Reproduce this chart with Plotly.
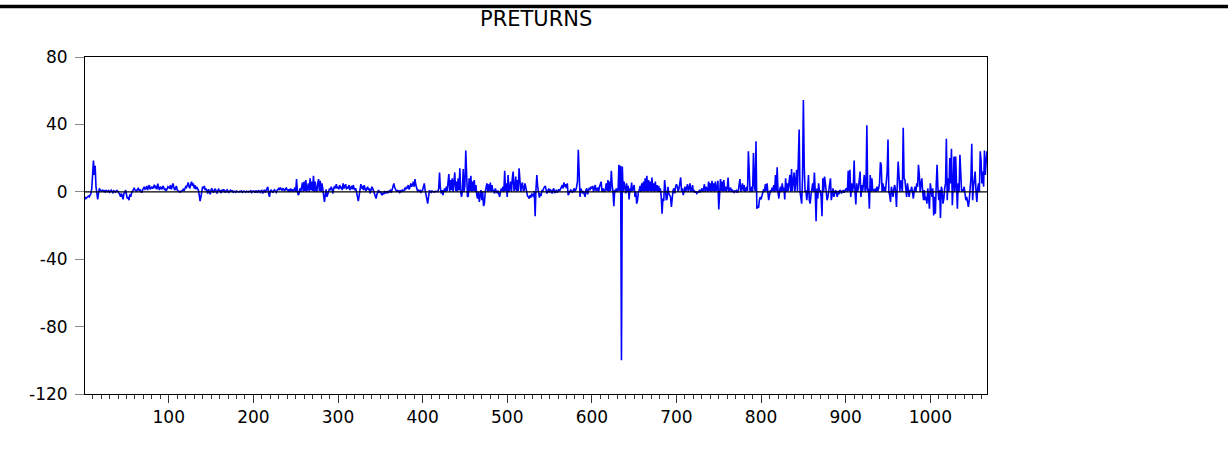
import plotly.graph_objects as go

title_text = "PRETURNS"
x_tick_values = [100, 200, 300, 400, 500, 600, 700, 800, 900, 1000]
x_tick_labels = ["100", "200", "300", "400", "500", "600", "700", "800", "900", "1000"]
y_tick_values = [-120, -80, -40, 0, 40, 80]
y_tick_labels = ["-120", "-80", "-40", "0", "40", "80"]

preturns = [
    -3, -4, -3.5, -3, -2.5, -3, -2, -1, 2, 8, 18.5, 10, 15.5, 3, -1, -4.5, -1, 2, 1, 0.5,
    0.5, 1, 0.3, 0.6, -0.4, 0.8, 0.5, 0.2, 0.7, -0.3, 0.4, 1, 0.2, -0.5, 0.6, 0.3, -0.2, 0.5, 0.8, 0.1,
    -0.5, -1.5, -3, -1, -2.5, -4.5, -1, -0.5, 1, -2, -4, -3, -5, -1.5, -3, -0.8, 0.5, 1.5, 2, 1.2,
    1, 0.5, 1.5, 2, 0.8, 1.2, 0.4, -0.5, 1, 2.5, 3, 1.5, 2, 3.5, 1, 2.8, 4, 1.5, 2.2, 3,
    1.8, 3, 4.2, 2, 3.5, 1.5, 4.8, 2.5, 1, 3, 2, 1.5, 3.5, 2.8, 1, 2, 0.5, 1.5, 3, 2.5,
    2, 4, 1.5, 3, 5, 2.5, 1, 2, 3.5, 1, 0.5, 0.3, -0.2, 0.4, 0.2, 0.8, 1.5, 0.5, 2, 3,
    2.5, 4, 5.5, 3, 2, 4.5, 6, 3.5, 5, 2, 4, 1.5, 3, 2, 1, -2, -5.5, -3, 1, 3,
    2, 3.5, 1, 2, 0.5, -1, 1.5, 0.5, -1.5, 1, 2, 0.5, -0.5, 1, 1.8, 0.3, -1, 0.8, 1.5, 0.4,
    0.6, -0.8, 1.2, 0.5, 1.5, 0.3, -0.5, 0.7, 1.2, 0.2, -0.4, 0.5, 1, 0.3, 0.6, -0.2, 0.4, 0.2, -0.3, 0.5,
    0.2, 0.4, -0.2, 0.3, 0.1, 0.5, -0.3, 0.2, 0.4, 0.1, -0.2, 0.3, 0.2, -0.1, 0.4, 0.1, 0.6, -0.4, 0.3, 0.5,
    0.2, -0.5, 0.8, 0.3, -0.6, 1, 0.4, -0.3, 0.5, 0.8, -1, 0.4, 1.2, -0.5, 0.6, 1.5, 3, -1, -3, 0.5,
    1, 0.3, -0.5, 0.6, 1.2, 0.4, -0.3, 0.8, 1.5, 2, 1, 2.5, 1.5, 0.8, 2, 1.2, 0.5, 1.8, 2.2, 1,
    0.5, 1.5, 0, 2, 0.3, 1.5, 0, 1, 2.5, 0, 7.5, 0.5, -2, -1, 2, 0, 4, 5.5, 0, 6,
    0.5, 7, 0, 4, 5, 0, 8, 1, 6, 0.5, 9.5, 0, 6, 1, 0, 5, 7.5, 0.5, 6.5, 0,
    5, 2, -3, -6, -2, 1.5, -3, -1, 0.5, 2, 1, 3, 1.5, -1, 2, 3.5, 2, 4.5, 2, 3,
    1.5, 4, 2.5, 3, 1, 5, 2, 3.5, 4.5, 1.5, 3, 2, 4, 1, 2.5, 3.5, 1.5, 4, 2, 1,
    2, -2, -3, -5.5, -1, 2, 4.5, 2, 3.5, 1, 4, 1.5, 0.5, 2, 3, 1, 2, -1, 1.5, 3,
    2, 0.5, -1, -2, -4, -1.5, 0.5, 1, -0.5, 0.3, -1, -2, -0.5, -1.5, 0.5, -1, 0.3, -0.8, 0.5, -0.3,
    0.5, 1, -0.5, 2, 3.5, 5, 2.5, 1, 0.5, 0.8, 0.2, 0.6, -0.3, 0.5, 0.2, 1, 0.5, 0.8, 2, 1.5,
    3, 2, 4, 1.5, 2.5, 5, 3, 4, 6, 3, 7.5, 4, 2, 0.5, 1, 0.3, 0.8, -0.2, 0.5, 1,
    3, 5, 1, -2, -6.5, -7, -3, 0.5, 0.3, -0.3, 0.5, 0.2, 0.4, -0.2, 0.3, 0.2, 0.5, 0.1, 2, 11.5,
    2, -1, 1, -2, 0.5, 2, 0, 3, 0.5, 6, 10.5, 0, 7, 1, 8, 0, 9, 11.5, 0.5, 6,
    0, 8, 1, 14, 0, -3, 0.5, 13.5, 0, 4, 24.5, 0, -3, -2.5, 8, 0.5, 9.5, 0, 6, 0.5,
    7, 0, 4, -2, -4, 0, -6, -2, 1, -5, 0, -8.5, -7, 0, 3, 5, 0, 4.5, 0.5, 5.5,
    0, 4, 0.5, 1, -1, 2, 0, -0.5, 0.8, -2, -3, 0, 2, 0.5, 3, 0, 12.5, 0.5, 5, -3,
    10, 0, 2, 6, 0, 8, 12, 0.5, 2, 9, 0, 7, 0.5, 14, 6, 0, 4, 5.5, 0.5, 1,
    5, 2, -1, -2.5, -3, -4, -2, -3.5, -1, -2, -3, 0.5, -14.5, 2, 10, 3, -2, -3.5, -1, -2.5,
    1, 0.5, 2, 3, 3.5, 1, -1, 0.5, 2, -0.5, 1.5, 0.5, -1, 1, 2, -0.8, 0.5, 1.2, -0.5, 0.8,
    1.5, 0.5, 2, 3, 4, 2, 5.5, 3, 4.5, 2, 5, -2, -1, 0.5, 1, 0.3, -0.5, 0.8, 2, 0.5,
    1, 3, 6, 25, 4, -3, 2, 1, -1, 0.5, -2, -3, 1, 2, -1.5, 0.5, 2.5, 1, 3, 2,
    3.5, 0, 2, 4, 0.5, 1, 2.5, 0, 3, 4.5, 6, 0, 2, 1, 0, 1.5, 5, 0.5, 7, 0,
    6, 0.5, 12.5, 4, 0, -8.5, 1, 0.5, 2, 0, 1, 16, 0.5, 15.5, -100, 15, 0, 6, 2, -1,
    5, 0, 3.5, -4.5, 2, 0, 5.5, 0.5, 2, 4, -3, 0, -7, -5, 0, 1, 3.5, 0, 5, 0.5,
    6, 0, 8, 0.5, 9.5, 0, 7, 0.5, 6, 0, 8.5, 0.5, 5, 0, 6, 0.5, 4, 0, 3.5, 0,
    2, -3, -13, -4, -5.5, 7, 2, -5, -4, 3, -1, -2.5, -3, -9, -3, 1, 2, -1, 3, 4.5,
    3, 0, 2, 6, 8.5, 0, 2, -2, 1, 3, 0, 2.5, 4.5, 0, 3, 5, 0, 1, 4, 0,
    0.5, -0.5, 0.3, -1, -0.5, 0.2, 0.8, -0.3, 1, 2, 0, 1.5, 4.5, 0, 3, 1, 0, 6, 0.5, 5,
    0, 6.5, 0.5, 5, 0, 6, 0.5, 2, 6.5, -10.5, 0, 7.5, 0.5, 6, 0, 7, 0.5, 3, 0, 2,
    8.5, 0, 1.5, 2.5, 0, 1, 0.5, -0.3, 0.5, 0.2, 0.8, -0.5, 0.6, 3, 7.5, 0, 2, 5, 0.5, 4,
    0, 1, 3, 0.5, 24, 13.5, 0, 0.5, 3, 0, 23, 4, 0.5, 30, -10, -8.5, -9.5, -5, -3, -4.5,
    -2, -1, 1.5, 0, 4.5, 0.5, 5, 0, -5, -2, 1, 0, 2.5, 0.5, 4, 0, 10, 0.5, 14.5, 0,
    -4, 1, 3, 0, 5, 0.5, 2.5, -4.5, 8, 0, 5, 0.5, 6, 10, 0, 13.5, 0.5, 9, 11.5, 0,
    8, 13, 0, 17, 37, 0, -5, -7, 9, 54.5, 15.5, 0, 1, -5, 0, 10, -5, -7, -2, 3,
    5, 0, 11.5, 0.5, -17.5, 2, -4, 5, 0, 1, -3, -14.5, 8, 0, 9, 5, -2, -5, -3, 1,
    2, 8, -5, 1, 2, -3, 0.5, 1, -0.5, -3, 0.5, -1.5, 1, 0.5, -1, 0.5, 1, -0.5, 0.8, 1.5,
    2, 0, 12.5, 0.5, 13, -3, 5, 0, 3, 18.5, 0, -7.5, 5, 0, 2, 6, 12, -3, 4, 0,
    5, 10, 0, 2, 39.5, 0, 2, -10, 10, 0, 8, 0.5, 1, 0.5, 2, 0, 3, 0.5, 2, 5,
    17.5, 16, 0, 5, 0.5, 3, 0, 5, 11.5, 31, 0, -2, -6, 3, 0, -3, 2, 4, 0, -9,
    5, 18, 10, 0, 7, 3, 0, 38, 8, 7, 0, -3, 5, 0, -3, 1, 0.5, 3, 0, -4,
    1, 3, 0, 5, 3, 16, 10, 0, 5, 8, 0, -5, 1, -5, -3, -7, 2, -6, -10, 5,
    1, -3, 2, -14, -3, -13, 4, 16, 2, -5, 1, -15.5, 3, 1, -7, -4, 2, 5, 31.5, -5,
    8, 0, 20, 5, 25.5, -8, 3, 21, 0, 21, 4, -10, 5, 0, 22, 10, 0, 1, 0.5, 3,
    -2, -5, -3, -7, -9, -5, 3, 8, 28.5, -5, 3, 10, 12, 0, -6, 2, 5, 0, 24, 18.5,
    5, 12, 3, 24.5, 10, 18, 24,
]
observations = list(range(1, len(preturns) + 1))

W, H = 1228, 455
ML, MR, MT, MB = 85, 241, 57, 61
plot_w = W - ML - MR
plot_h = H - MT - MB

fig = go.Figure()
fig.add_trace(go.Scatter(
    x=observations, y=preturns, mode="lines",
    line=dict(color="#0000FF", width=1.6),
    hoverinfo="skip", showlegend=False,
))

font_family = "DejaVu Sans, Liberation Sans, Arial, sans-serif"

fig.update_layout(
    width=W, height=H,
    margin=dict(l=ML, r=MR, t=MT, b=MB, pad=0),
    paper_bgcolor="white", plot_bgcolor="white",
    font=dict(family=font_family, size=17, color="black"),
    showlegend=False,
    hovermode=False,
    xaxis=dict(
        range=[1, len(preturns)],
        tickmode="array", tickvals=x_tick_values, ticktext=x_tick_labels,
        ticks="outside", ticklen=8, tickwidth=1, tickcolor="#333333",
        minor=dict(dtick=10, tick0=0, ticks="outside", ticklen=4, tickwidth=1,
                   tickcolor="#333333", showgrid=False),
        showgrid=False, zeroline=False,
        showline=True, linecolor="black", linewidth=1, mirror=True,
        tickfont=dict(family=font_family, size=17, color="black"),
    ),
    yaxis=dict(
        range=[-120, 80],
        tickmode="array", tickvals=y_tick_values, ticktext=y_tick_labels,
        ticks="outside", ticklen=9, tickwidth=1, tickcolor="#888888",
        ticklabelstandoff=4,
        showgrid=False, zeroline=False,
        showline=True, linecolor="black", linewidth=1, mirror=True,
        tickfont=dict(family=font_family, size=17, color="black"),
    ),
    shapes=[
        dict(type="line", xref="paper", yref="y", x0=0, x1=1, y0=0, y1=0,
             line=dict(color="black", width=1.2), layer="above"),
        dict(type="line", xref="paper", yref="paper",
             x0=-ML / plot_w, x1=(W - ML) / plot_w,
             y0=1 + (MT - 6.5) / plot_h, y1=1 + (MT - 6.5) / plot_h,
             line=dict(color="black", width=3.5), layer="above"),
    ],
    annotations=[
        dict(text=title_text, xref="paper", yref="paper", x=0.5,
             y=1 + (MT - 19) / plot_h, xanchor="center", yanchor="middle",
             showarrow=False, font=dict(family=font_family, size=21, color="black")),
    ],
)

fig.write_html(
    "out.html",
    config={"displayModeBar": False, "staticPlot": True},
    post_script="document.body.style.margin='0';document.body.style.padding='0';",
)
